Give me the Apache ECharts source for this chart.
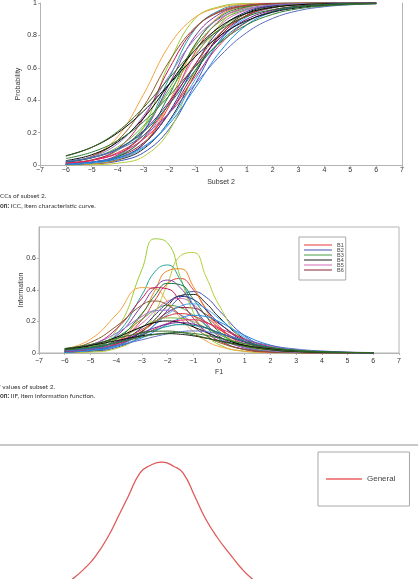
<!DOCTYPE html>
<html>
<head>
<meta charset="utf-8">
<script src="https://cdn.jsdelivr.net/npm/echarts@6/dist/echarts.min.js"></script>
<style>
    html, body { margin: 0; padding: 0; background: #fff; }
    #main { width: 418px; height: 579px; }
</style>
</head>
<body>
<div id="main"></div>
<script type="text/javascript">
    // 横轴取值
    const iccX = [-6, -5, -4, -3, -2, -1, 0, 1, 2, 3, 4, 5, 6];
    const iifX = [-6, -5, -4, -3, -2.5, -2, -1.5, -1, -0.5, 0, 1, 2, 3, 4, 5, 6];

    // 题目名称与颜色（前 6 个出现在图例里）
    const itemNames = ['B1', 'B2', 'B3', 'B4', 'B5', 'B6',
        'B7', 'B8', 'B9', 'B10', 'B11', 'B12', 'B13', 'B14', 'B15', 'B16', 'B17', 'B18',
        'B19', 'B20', 'B21', 'B22', 'B23', 'B24', 'B25', 'B26', 'B27', 'B28', 'B29'];
    const itemColors = ['#e53935', '#3f51b5', '#43a047', '#222222', '#d46ab8', '#8b2232',
        '#9acd32', '#b8cc3a', '#26a69a', '#f08a24', '#f4a340', '#7b3fa0', '#1b7a3a', '#c2185b',
        '#283593', '#8d5a2b', '#42a5f5', '#9575cd', '#d32f2f', '#1e88e5', '#7cb342', '#e91e63',
        '#000000', '#6a1b9a', '#00897b', '#5c6bc0', '#111111', '#2e7d32', '#33691e'];

    // 题目特征曲线 (ICC)
    const iccValues = [
        [0.002, 0.009, 0.035, 0.127, 0.366, 0.696, 0.901, 0.973, 0.993, 0.998, 1, 1, 1],
        [0.002, 0.007, 0.023, 0.076, 0.223, 0.5, 0.777, 0.924, 0.977, 0.993, 0.998, 0.999, 1],
        [0.011, 0.032, 0.09, 0.23, 0.473, 0.729, 0.89, 0.96, 0.986, 0.995, 0.998, 1, 1],
        [0.003, 0.009, 0.031, 0.099, 0.273, 0.562, 0.815, 0.938, 0.981, 0.994, 0.998, 1, 1],
        [0.006, 0.018, 0.056, 0.161, 0.385, 0.67, 0.869, 0.956, 0.986, 0.996, 0.999, 1, 1],
        [0.006, 0.018, 0.051, 0.137, 0.319, 0.579, 0.802, 0.923, 0.972, 0.99, 0.997, 0.999, 1],
        [0.002, 0.009, 0.05, 0.23, 0.63, 0.905, 0.98, 0.997, 0.999, 1, 1, 1, 1],
        [0.0004, 0.002, 0.011, 0.052, 0.21, 0.58, 0.875, 0.972, 0.994, 0.999, 1, 1, 1],
        [0.003, 0.013, 0.055, 0.206, 0.537, 0.839, 0.959, 0.991, 0.998, 1, 1, 1, 1],
        [0.002, 0.008, 0.032, 0.128, 0.39, 0.739, 0.926, 0.982, 0.996, 0.999, 1, 1, 1],
        [0.015, 0.054, 0.174, 0.435, 0.739, 0.912, 0.974, 0.993, 0.998, 1, 1, 1, 1],
        [0.004, 0.017, 0.062, 0.204, 0.5, 0.796, 0.938, 0.983, 0.996, 0.999, 1, 1, 1],
        [0.004, 0.014, 0.05, 0.167, 0.433, 0.745, 0.918, 0.977, 0.994, 0.998, 1, 1, 1],
        [0.008, 0.029, 0.099, 0.287, 0.596, 0.844, 0.952, 0.986, 0.996, 0.999, 1, 1, 1],
        [0.004, 0.013, 0.042, 0.128, 0.327, 0.618, 0.843, 0.947, 0.983, 0.995, 0.998, 1, 1],
        [0.017, 0.053, 0.151, 0.359, 0.641, 0.849, 0.947, 0.983, 0.994, 0.998, 1, 1, 1],
        [0.004, 0.012, 0.037, 0.106, 0.267, 0.527, 0.774, 0.913, 0.97, 0.99, 0.997, 0.999, 1],
        [0.018, 0.05, 0.131, 0.302, 0.552, 0.779, 0.91, 0.966, 0.988, 0.996, 0.998, 1, 1],
        [0.011, 0.029, 0.076, 0.182, 0.378, 0.622, 0.818, 0.924, 0.971, 0.989, 0.996, 0.998, 0.999],
        [0.007, 0.018, 0.046, 0.113, 0.254, 0.475, 0.707, 0.865, 0.945, 0.979, 0.992, 0.997, 0.999],
        [0.018, 0.046, 0.11, 0.242, 0.453, 0.681, 0.847, 0.935, 0.974, 0.99, 0.996, 0.998, 0.999],
        [0.012, 0.029, 0.07, 0.16, 0.323, 0.545, 0.75, 0.883, 0.95, 0.979, 0.992, 0.997, 0.999],
        [0.027, 0.063, 0.142, 0.289, 0.5, 0.711, 0.858, 0.937, 0.973, 0.989, 0.995, 0.998, 0.999],
        [0.019, 0.044, 0.1, 0.211, 0.392, 0.608, 0.789, 0.9, 0.956, 0.981, 0.992, 0.997, 0.999],
        [0.02, 0.045, 0.099, 0.204, 0.375, 0.584, 0.767, 0.885, 0.947, 0.977, 0.99, 0.996, 0.998],
        [0.023, 0.047, 0.095, 0.182, 0.321, 0.5, 0.679, 0.818, 0.905, 0.953, 0.977, 0.989, 0.995],
        [0.057, 0.109, 0.198, 0.332, 0.5, 0.668, 0.802, 0.891, 0.943, 0.971, 0.985, 0.993, 0.996],
        [0.04, 0.079, 0.151, 0.267, 0.428, 0.606, 0.76, 0.866, 0.93, 0.965, 0.982, 0.991, 0.996],
        [0.055, 0.109, 0.206, 0.354, 0.537, 0.711, 0.839, 0.917, 0.959, 0.98, 0.99, 0.995, 0.998]
    ];

    // 题目信息函数 (IIF)
    const iifValues = [
        [.004, .017, .066, .210, .333, .441, .473, .402, .280, .169, .050, .013, .003, .001, 0, 0],
        [.003, .010, .035, .109, .180, .271, .354, .390, .354, .271, .109, .035, .010, .003, .001, 0],
        [.013, .038, .100, .214, .272, .302, .288, .239, .176, .119, .046, .016, .006, .002, .001, 0],
        [.004, .014, .046, .135, .211, .300, .365, .372, .315, .228, .088, .029, .008, .003, .001, 0],
        [.008, .024, .073, .188, .266, .329, .346, .307, .234, .158, .059, .019, .006, .002, .001, 0],
        [.007, .021, .056, .138, .197, .258, .289, .285, .244, .186, .084, .032, .011, .004, .001, 0],
        [.005, .028, .143, .529, .725, .699, .480, .259, .123, .054, .010, .002, 0, 0, 0, 0],
        [.001, .006, .028, .126, .253, .441, .617, .638, .483, .305, .071, .015, .003, .001, 0, 0],
        [.007, .029, .117, .368, .515, .559, .462, .304, .172, .089, .021, .005, .001, 0, 0, 0],
        [.004, .016, .069, .244, .394, .522, .535, .422, .270, .157, .039, .009, .002, 0, 0, 0],
        [.026, .087, .242, .415, .407, .326, .222, .136, .077, .042, .012, .003, .001, 0, 0, 0],
        [.008, .031, .107, .301, .413, .463, .413, .301, .189, .107, .031, .008, .002, .001, 0, 0],
        [.006, .024, .085, .250, .364, .442, .433, .342, .233, .136, .041, .011, .003, .001, 0, 0],
        [.014, .048, .151, .346, .415, .407, .326, .222, .136, .077, .023, .006, .002, 0, 0, 0],
        [.006, .019, .058, .161, .240, .317, .359, .340, .273, .191, .073, .024, .007, .002, .001, 0],
        [.023, .067, .169, .304, .330, .304, .241, .169, .110, .067, .023, .007, .002, .001, 0, 0],
        [.005, .016, .045, .119, .178, .245, .297, .312, .280, .219, .099, .037, .013, .004, .001, 0],
        [.020, .052, .125, .232, .268, .272, .243, .191, .135, .091, .036, .013, .005, .002, .001, 0],
        [.011, .029, .070, .149, .197, .235, .250, .235, .197, .149, .070, .029, .011, .004, .002, .001],
        [.006, .017, .042, .096, .137, .182, .220, .239, .231, .199, .112, .050, .020, .008, .003, .001],
        [.016, .039, .088, .165, .202, .223, .220, .199, .158, .117, .055, .023, .009, .004, .001, .001],
        [.010, .024, .056, .114, .151, .188, .208, .211, .192, .159, .088, .041, .017, .007, .003, .001],
        [.021, .048, .099, .166, .193, .203, .193, .166, .132, .099, .048, .021, .009, .004, .001, .001],
        [.014, .033, .069, .128, .160, .183, .193, .183, .160, .128, .069, .033, .014, .006, .003, .001],
        [.014, .031, .064, .117, .145, .169, .180, .175, .158, .129, .074, .036, .016, .007, .003, .001],
        [.013, .025, .048, .084, .104, .122, .135, .140, .135, .122, .084, .048, .025, .013, .006, .003],
        [.027, .048, .078, .109, .119, .123, .119, .109, .094, .078, .048, .027, .014, .007, .004, .002],
        [.020, .038, .066, .102, .117, .127, .130, .124, .112, .095, .060, .034, .018, .009, .004, .002],
        [.029, .054, .092, .128, .138, .139, .131, .115, .096, .076, .043, .022, .011, .005, .003, .001]
    ];

    // 第三张图（General）
    const genX = [-7, -6.4, -5.6, -5.2, -4.82, -4.32, -3.85, -3.54, -3.07, -2.7, -2.22, -1.75, -1.4, -0.93, -0.54, -0.08, 0.51, 0.85, 1.21, 2.0, 2.6];
    const genY = [0.7, 1.3, 2.33, 2.95, 3.67, 5.0, 6.6, 7.67, 9.27, 9.75, 10.0, 9.7, 9.27, 7.67, 6.27, 5.0, 3.67, 2.95, 2.33, 1.3, 0.8];

    const legendNames = ['B1', 'B2', 'B3', 'B4', 'B5', 'B6'];

    var axisFont = 'Liberation Sans';
    var axisGray = '#b4b4b4';
    function minusFmt(v){
        return String(v).replace('-', '\u2212');
    }

    function pairs(xs, ys){
        let out = [];
        for(var i = 0; i < xs.length; i++){
            out.push([xs[i], ys[i]]);
        }
        return out;
    }

    var series = [];
    for(var i = 0; i < itemNames.length; i++){
        series.push({
            name: itemNames[i], type: 'line', xAxisIndex: 0, yAxisIndex: 0,
            data: pairs(iccX, iccValues[i]), smooth: 0.4, symbol: 'none',
            lineStyle: { width: 1, color: itemColors[i] }, itemStyle: { color: itemColors[i] }
        });
    }
    for(var i = 0; i < itemNames.length; i++){
        series.push({
            name: itemNames[i], type: 'line', xAxisIndex: 1, yAxisIndex: 2,
            data: pairs(iifX, iifValues[i]), smooth: 0.5, symbol: 'none',
            lineStyle: { width: 1, color: itemColors[i] }, itemStyle: { color: itemColors[i] }
        });
    }
    series.push({
        name: 'General', type: 'line', xAxisIndex: 2, yAxisIndex: 3,
        data: pairs(genX, genY), smooth: 0.5, symbol: 'none',
        lineStyle: { width: 1.3, color: '#df5a5a' }, itemStyle: { color: '#f08a8a' }
    });

    function xAxisOf(grid, margin, name, gap){
        return {
            gridIndex: grid, type: 'value', min: -7, max: 7, interval: 1,
            name: name, nameLocation: 'middle', nameGap: gap, nameMoveOverlap: false,
            nameTextStyle: { fontFamily: axisFont, fontSize: 7, color: '#333' },
            axisLine: { onZero: false, lineStyle: { color: axisGray } },
            axisTick: { show: true, length: 2, lineStyle: { color: axisGray } },
            axisLabel: { fontFamily: axisFont, fontSize: 7, color: '#333', margin: margin, formatter: minusFmt },
            splitLine: { show: false }
        };
    }

    var option = {
        animation: false,
        backgroundColor: '#fff',
        grid: [
            { left: 40, right: 16, top: 3, height: 162, outerBoundsMode: 'none' },
            { left: 39, right: 19, top: 227, height: 126, show: true, borderColor: axisGray, borderWidth: 1, outerBoundsMode: 'none' },
            { left: 39, right: 19, top: 462, height: 150, outerBoundsMode: 'none' }
        ],
        xAxis: [
            xAxisOf(0, 2, 'Subset 2', 14),
            xAxisOf(1, 5, 'F1', 16),
            { gridIndex: 2, type: 'value', min: -7, max: 7, show: false }
        ],
        yAxis: [
            {
                gridIndex: 0, type: 'value', min: 0, max: 1, interval: 0.2,
                name: 'Probability', nameLocation: 'middle', nameGap: 18, nameMoveOverlap: false,
                nameTextStyle: { fontFamily: axisFont, fontSize: 7, color: '#333' },
                axisLine: { show: true, onZero: false, lineStyle: { color: axisGray } },
                axisTick: { show: true, length: 2, lineStyle: { color: axisGray } },
                axisLabel: { fontFamily: axisFont, fontSize: 7, color: '#333', margin: 3 },
                splitLine: { show: false }
            },
            {
                gridIndex: 0, type: 'value', min: 0, max: 1, position: 'right',
                axisLine: { show: true, onZero: false, lineStyle: { color: axisGray } },
                axisTick: { show: false }, axisLabel: { show: false }, splitLine: { show: false }
            },
            {
                gridIndex: 1, type: 'value', min: 0, max: 0.8, interval: 0.2,
                name: 'Information', nameLocation: 'middle', nameGap: 14, nameMoveOverlap: false,
                nameTextStyle: { fontFamily: axisFont, fontSize: 7, color: '#333' },
                axisLine: { show: true, onZero: false, lineStyle: { color: axisGray } },
                axisTick: { show: true, length: 2, lineStyle: { color: axisGray } },
                axisLabel: { fontFamily: axisFont, fontSize: 7, color: '#333', margin: 3, showMaxLabel: false },
                splitLine: { show: false }
            },
            { gridIndex: 2, type: 'value', min: 0, max: 10, show: false }
        ],
        legend: [
            {
                data: legendNames, orient: 'vertical', left: 299, top: 237,
                icon: 'rect', itemWidth: 28, itemHeight: 2, itemGap: -1,
                padding: [5, 2, 7, 5], borderColor: '#a8a8a8', borderWidth: 1,
                backgroundColor: '#fff', selectedMode: false,
                itemStyle: { opacity: 0.5 },
                textStyle: { fontFamily: axisFont, fontSize: 5.5, lineHeight: 5, color: '#444' }
            },
            {
                data: ['General'], orient: 'vertical', left: 318, top: 452,
                icon: 'rect', itemWidth: 36, itemHeight: 2, itemGap: 0,
                padding: [22, 14, 22, 8], borderColor: '#a8a8a8', borderWidth: 1,
                backgroundColor: '#fff', selectedMode: false,
                itemStyle: { color: '#f08a8a' },
                textStyle: { fontFamily: axisFont, fontSize: 8, lineHeight: 10, color: '#444' }
            }
        ],
        graphic: [
            { type: 'text', left: 0, top: 192, style: { text: 'CCs of subset 2.', font: '6.5px Lato', fill: '#333' } },
            { type: 'text', left: 0, top: 202, style: { text: '{b|on:} ICC, item characteristic curve.', font: '6.5px Lato', fill: '#333',
                rich: { b: { fontWeight: 'bold', fontFamily: 'Lato', fontSize: 6.5 } } } },
            { type: 'text', left: -3, top: 383, style: { text: 'F values of subset 2.', font: '6.5px Lato', fill: '#333' } },
            { type: 'text', left: 0, top: 392, style: { text: '{b|on:} IIF, item information function.', font: '6.5px Lato', fill: '#333',
                rich: { b: { fontWeight: 'bold', fontFamily: 'Lato', fontSize: 6.5 } } } },
            { type: 'line', shape: { x1: 0, y1: 445, x2: 418, y2: 445 }, style: { stroke: '#c8c8c8', lineWidth: 2 } }
        ],
        series: series
    };

    var myChart = echarts.init(document.getElementById('main'));
    myChart.setOption(option);
</script>
</body>
</html>
